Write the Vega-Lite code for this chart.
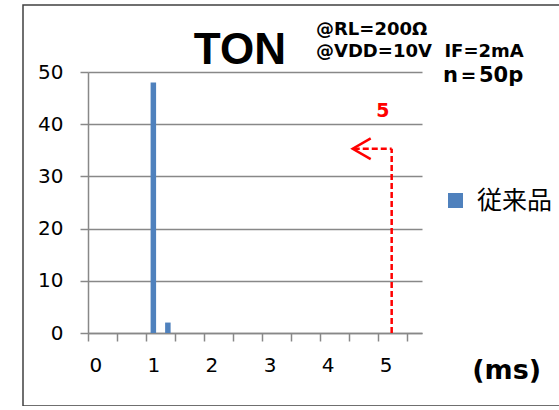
{
  "$schema": "https://vega.github.io/schema/vega-lite/v6.json",
  "width": 540,
  "height": 401,
  "autosize": {"type": "none"},
  "padding": {"left": 23, "top": 5, "right": 0, "bottom": 0},
  "background": "white",
  "config": {
    "view": {"stroke": "#404040", "strokeWidth": 1.5},
    "font": "DejaVu Sans"
  },
  "layer": [
    {
      "data": {"values": [
        {"ms": 1, "count": 48, "series": "従来品"},
        {"ms": 1.25, "count": 2, "series": "従来品"}
      ]},
      "mark": {"type": "bar", "size": 5.5},
      "encoding": {
        "x": {
          "field": "ms", "type": "quantitative",
          "scale": {"domain": [-0.125, 5.625], "range": [65, 399], "nice": false, "zero": false, "padding": 0},
          "axis": {
            "title": "(ms)", "orient": "bottom", "offset": -73,
            "values": [-0.125, 0.125, 0.375, 0.625, 0.875, 1.125, 1.375, 1.625, 1.875, 2.125, 2.375, 2.625, 2.875, 3.125, 3.375, 3.625, 3.875, 4.125, 4.375, 4.625, 4.875, 5.125, 5.375, 5.625],
            "labelExpr": "(datum.value + 0.125) % 1 === 0 ? format(datum.value + 0.125, 'd') : ''",
            "labelOffset": 7.26, "labelFlush": false, "labelOverlap": false, "labelBound": false,
            "tickSize": 8, "tickColor": "#888888", "tickWidth": 1.5,
            "domainColor": "#888888", "domainWidth": 1.5, "grid": false,
            "labelFont": "DejaVu Sans", "labelFontSize": 20, "labelColor": "black", "labelPadding": 14,
            "titleFont": "DejaVu Sans", "titleFontSize": 27, "titleFontWeight": "bold", "titleColor": "black",
            "titleX": 448.7, "titleY": 45, "titleAlign": "left", "titleBaseline": "alphabetic", "titleAnchor": "start"
          }
        },
        "y": {
          "field": "count", "type": "quantitative",
          "scale": {"domain": [0, 50], "range": [328, 67], "nice": false, "padding": 0},
          "axis": {
            "title": null, "orient": "left", "offset": -65,
            "values": [0, 10, 20, 30, 40, 50],
            "tickSize": 8, "tickColor": "#888888", "tickWidth": 1.5,
            "domainColor": "#888888", "domainWidth": 1.5,
            "grid": true, "gridColor": "#888888", "gridWidth": 1.5,
            "labelFont": "DejaVu Sans", "labelFontSize": 20, "labelColor": "black", "labelPadding": 17
          }
        },
        "color": {
          "field": "series", "type": "nominal",
          "scale": {"range": ["#4F81BD"]},
          "legend": {
            "title": null, "orient": "none", "legendX": 420, "legendY": 183,
            "symbolType": "square", "symbolSize": 225, "symbolStrokeWidth": 0,
            "labelFont": "Noto Sans CJK JP", "labelFontSize": 25, "labelColor": "black",
            "labelOffset": 9, "padding": 0
          }
        }
      }
    },
    {
      "data": {"values": [{}]},
      "mark": {"type": "rule", "color": "#FF0000", "strokeWidth": 2.5, "strokeDash": [6, 3]},
      "encoding": {"x": {"datum": 5.103}, "y": {"datum": 0}, "y2": {"datum": 35.3}}
    },
    {
      "data": {"values": [{}]},
      "mark": {"type": "rule", "color": "#FF0000", "strokeWidth": 2.5, "strokeDash": [6, 3]},
      "encoding": {"x": {"datum": 4.45}, "x2": {"datum": 5.103}, "y": {"datum": 35.3}}
    },
    {
      "data": {"values": [{}]},
      "mark": {"type": "point", "shape": "M 1 -1.15 L -1 0 L 1 1.15", "size": 324, "filled": false, "stroke": "#FF0000", "strokeWidth": 2.5, "opacity": 1},
      "encoding": {"x": {"datum": 4.587}, "y": {"datum": 35.3}}
    },
    {
      "data": {"values": [{}]},
      "mark": {"type": "text", "font": "DejaVu Sans", "fontSize": 19, "fontWeight": "bold", "align": "center", "baseline": "alphabetic", "color": "#FF0000"},
      "encoding": {"x": {"datum": 4.953}, "y": {"datum": 41.3}, "text": {"value": "5"}}
    },
    {
      "data": {"values": [{}]},
      "mark": {"type": "text", "font": "Liberation Sans", "fontSize": 44, "fontWeight": "bold", "align": "center", "baseline": "alphabetic", "color": "black"},
      "encoding": {"x": {"datum": 2.49}, "y": {"datum": 51.57}, "text": {"value": "TON"}}
    },
    {
      "data": {"values": [{}]},
      "mark": {"type": "text", "font": "DejaVu Sans", "fontSize": 18, "fontWeight": "bold", "align": "left", "baseline": "alphabetic", "color": "black"},
      "encoding": {"x": {"datum": 3.8}, "y": {"datum": 57.03}, "text": {"value": "@RL=200Ω"}}
    },
    {
      "data": {"values": [{}]},
      "mark": {"type": "text", "font": "DejaVu Sans", "fontSize": 18, "fontWeight": "bold", "align": "left", "baseline": "alphabetic", "color": "black"},
      "encoding": {"x": {"datum": 3.8}, "y": {"datum": 52.87}, "text": {"value": "@VDD=10V\u00a0 IF=2mA"}}
    },
    {
      "data": {"values": [{}]},
      "mark": {"type": "text", "font": "DejaVu Sans", "fontSize": 21, "fontWeight": "bold", "align": "left", "baseline": "alphabetic", "color": "black"},
      "encoding": {"x": {"datum": 5.986}, "y": {"datum": 48.08}, "text": {"value": "n＝50p"}}
    }
  ]
}
